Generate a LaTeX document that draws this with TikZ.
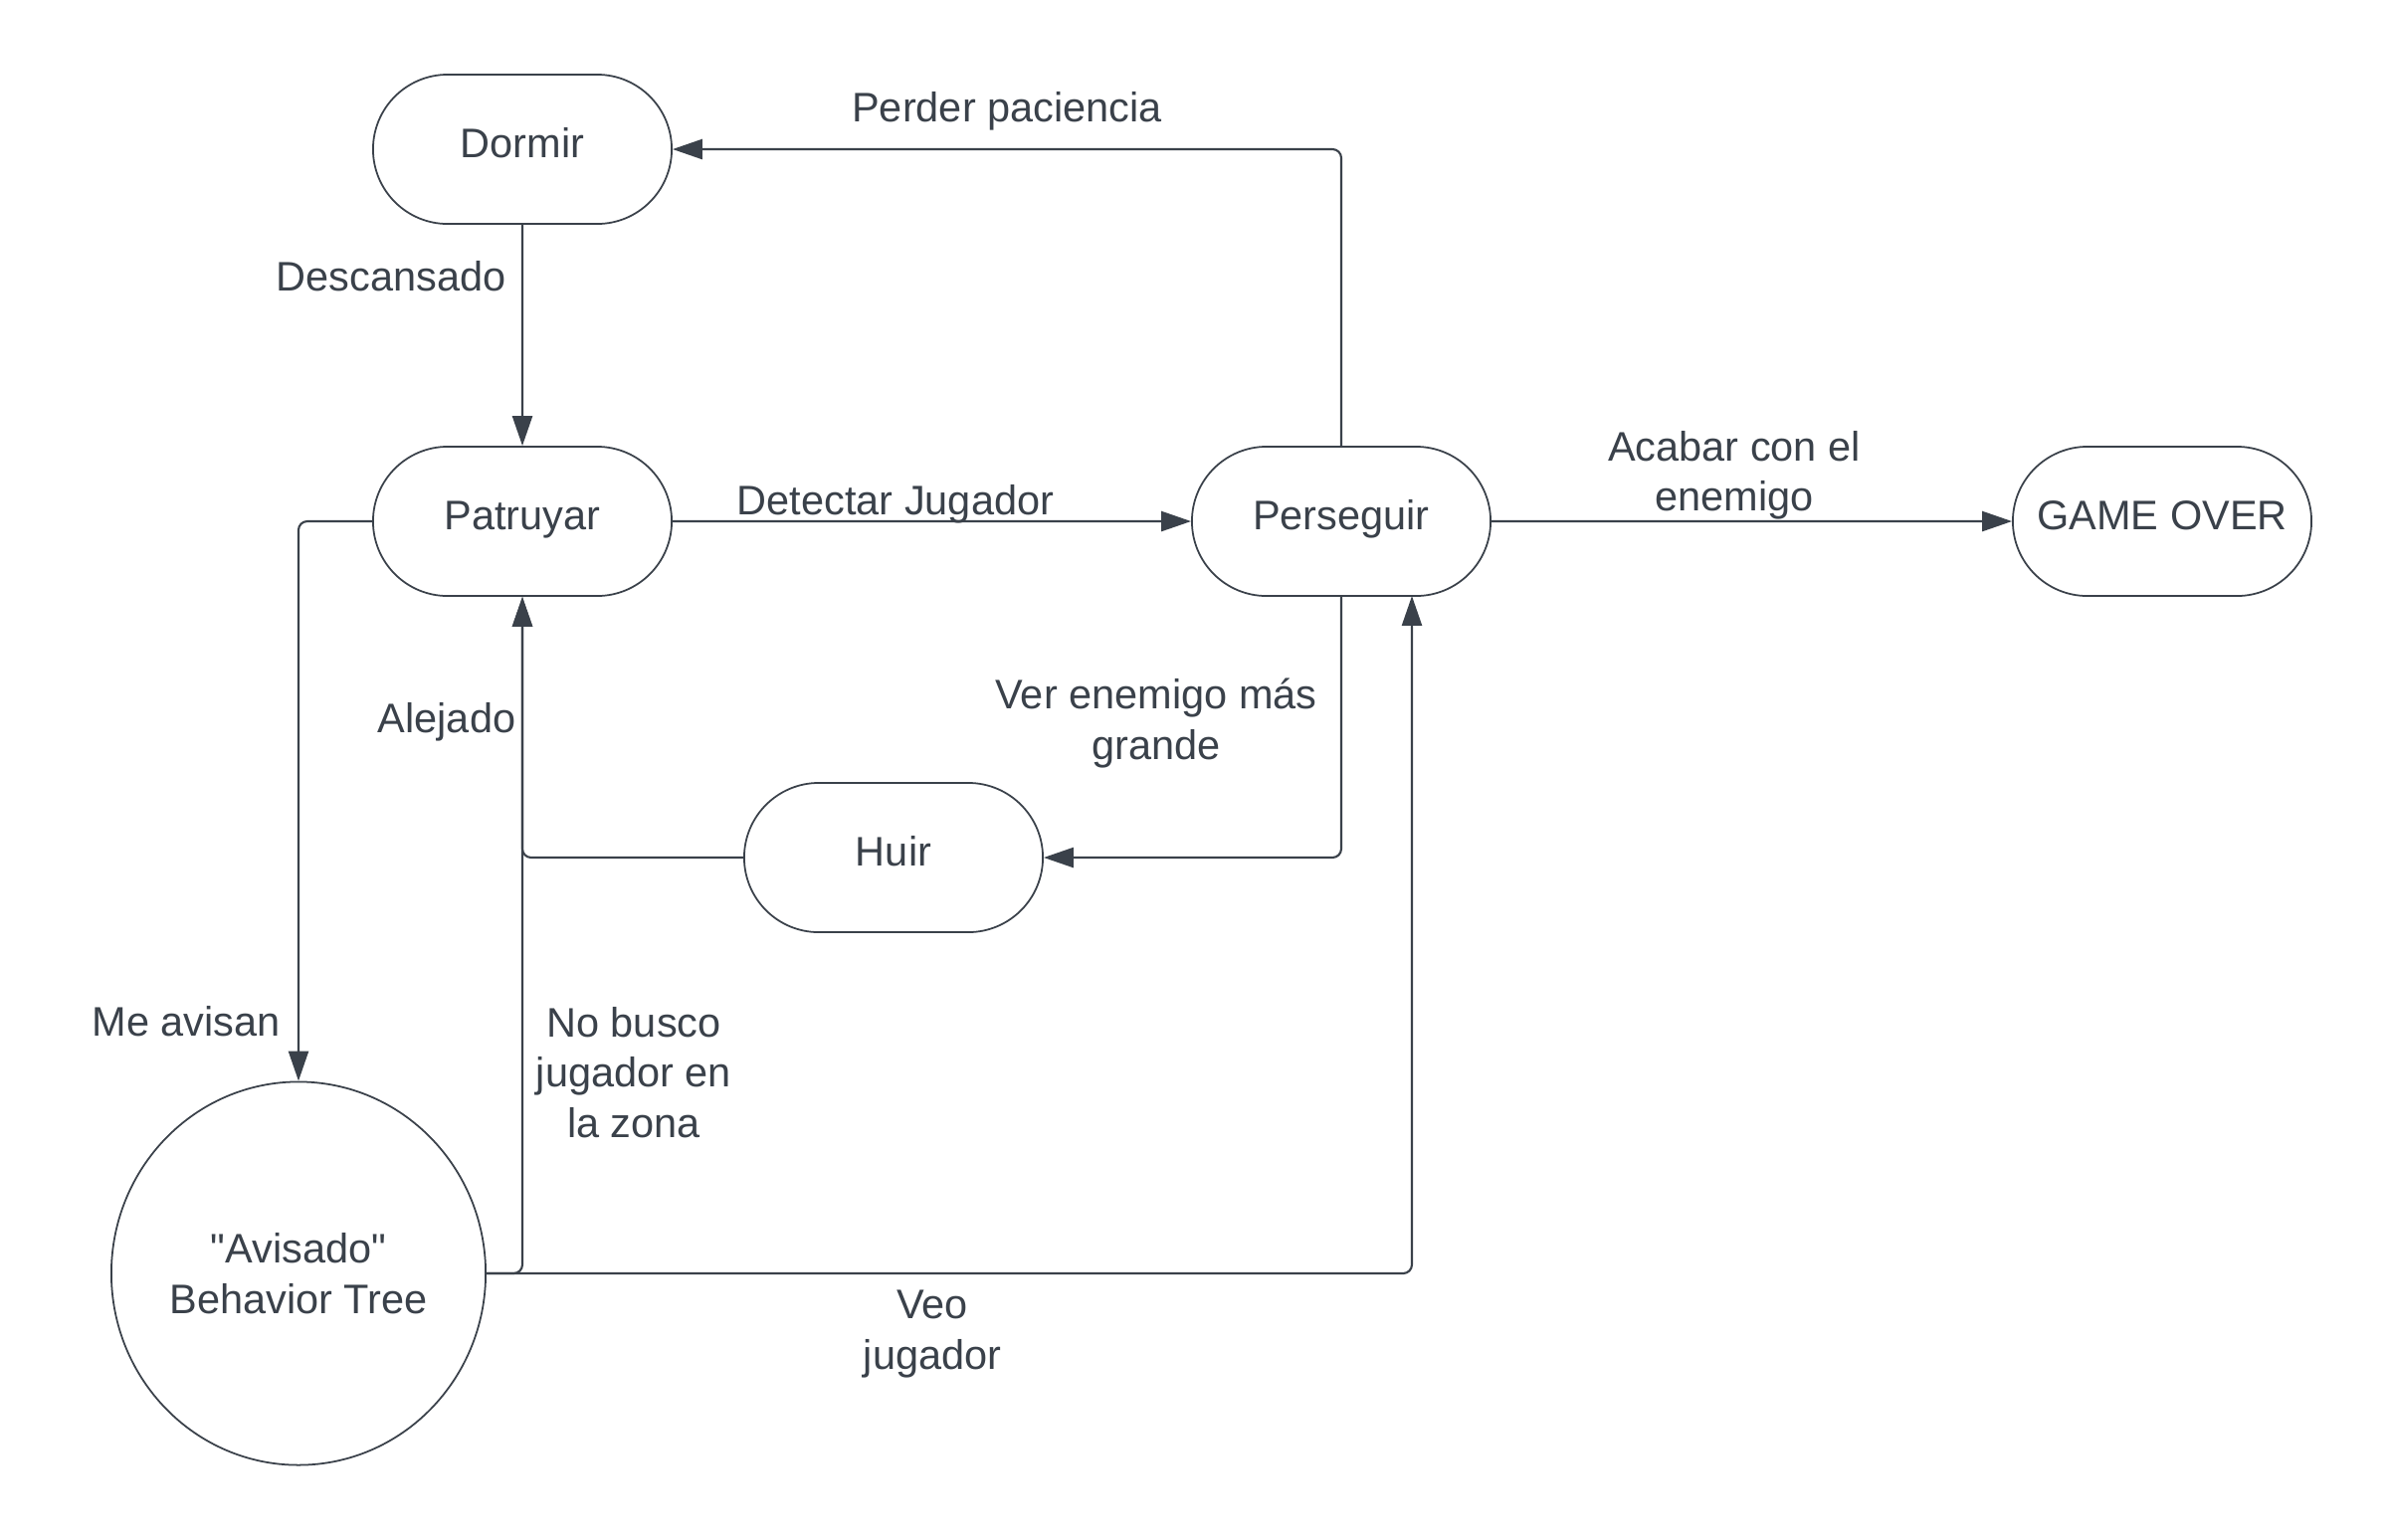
\documentclass[tikz,border=0pt]{standalone}
\usepackage{fontspec}
\setmainfont{Liberation Sans}
\newfontfamily\plainq{Liberation Sans}
\usetikzlibrary{arrows.meta,shapes.misc,shapes.geometric}
\definecolor{lc}{RGB}{58,65,74}
\begin{document}
\begin{tikzpicture}[x=0.01cm,y=-0.01cm,
  every node/.style={font=\fontsize{11.8}{14.3}\selectfont, text=lc},
  state/.style={draw=lc, line width=0.5pt, rounded rectangle, minimum width=3cm, minimum height=1.5cm, inner sep=0pt, text height=0.8em, text depth=0.32em},
  bigstate/.style={draw=lc, line width=0.5pt, ellipse, minimum width=3.76cm, minimum height=3.85cm, align=center, inner sep=0pt},
  lbl/.style={align=center, inner sep=0pt},
  conn/.style={draw=lc, line width=0.6pt, rounded corners=2.5pt, -{Triangle[length=8.5pt,width=5.7pt]}}
]
\useasboundingbox (0,0) rectangle (2400,1547);

\node[state] (dormir) at (525,150) {Dormir};
\node[state] (patr) at (525,524) {Patruyar};
\node[state] (pers) at (1348,524) {Perseguir};
\node[state] (game) at (2173,524) {GAME OVER};
\node[state] (huir) at (898,862) {Huir};
\node[bigstate] (av) at (300,1280) {{\plainq "Avisado"}\\Behavior Tree};
\coordinate (pin) at (1419,599);

\draw[conn] (dormir) -- (patr);
\draw[conn] (pers.north) |- (dormir.east);
\draw[conn] (patr) -- (pers);
\draw[conn] (pers) -- (game);
\draw[conn] (pers.south) |- (huir.east);
\draw[conn] (huir.west) -| (patr.south);
\draw[conn] (patr.west) -| (av.north);
\draw[conn] (av.east) -| (patr.south);
\draw[conn] (av.east) -| (pin);

\node[lbl] (l1) at (1012,112) {Perder paciencia};
\node[lbl] (l2) at (393,278) {Descansado};
\node[lbl] (l3) at (900,507) {Detectar Jugador};
\node[lbl] (l4) at (1743,478) {Acabar con el\\enemigo};
\node[lbl] (l5) at (1162,727) {Ver enemigo más\\grande};
\node[lbl] (l6) at (449,726) {Alejado};
\node[lbl] (l7) at (187,1027) {Me avisan};
\node[lbl] (l8) at (637,1078) {No busco\\jugador en\\la zona};
\node[lbl] (l9) at (937,1341) {Veo\\jugador};
\end{tikzpicture}
\end{document}
